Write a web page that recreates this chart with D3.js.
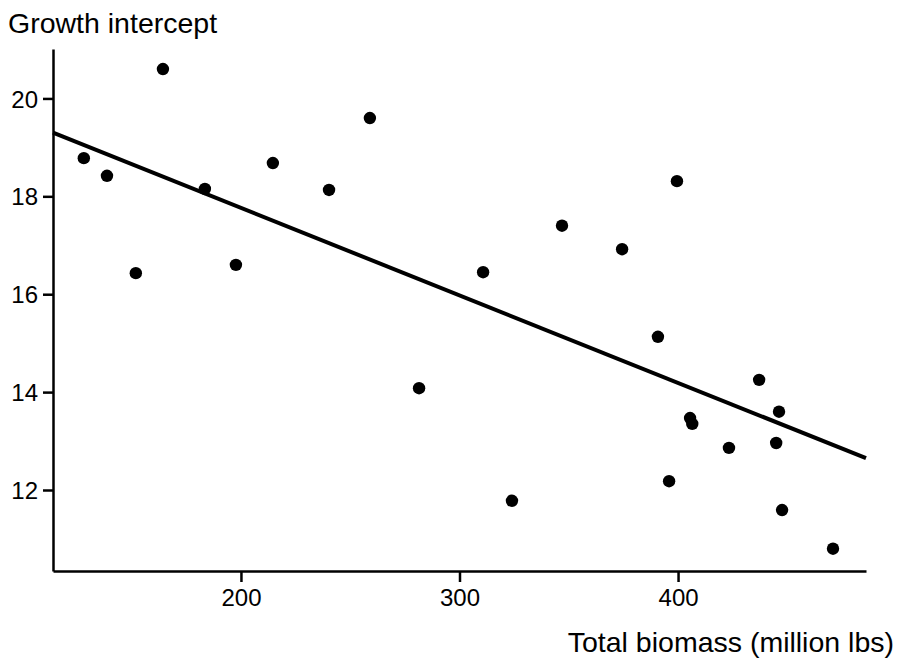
<!DOCTYPE html>
<html>
<head>
<meta charset="utf-8">
<script src="https://cdn.jsdelivr.net/npm/d3@7"></script>
<style>
  html, body { margin: 0; padding: 0; background: #fff; }
  svg { display: block; font-family: Arial, "Liberation Sans", Helvetica, sans-serif; }
  .axis path, .axis line { stroke: #000; stroke-width: 2.5; }
  .axis text { font-size: 24px; fill: #000; }
</style>
</head>
<body>
<svg id="chart" width="899" height="658"></svg>
<script>
// total biomass (million lbs) and growth intercept
const biomass = [128.1, 138.7, 164.3, 151.9, 183.5, 197.7, 214.6, 240.3, 259.0, 281.5,
                 310.8, 324.0, 346.9, 374.4, 399.5, 390.8, 395.9, 405.5, 406.5, 423.3,
                 437.1, 446.2, 444.9, 447.6, 470.9];
const growth  = [18.78, 18.42, 20.60, 16.43, 18.15, 16.60, 18.68, 18.13, 19.60, 14.08,
                 16.45, 11.78, 17.40, 16.92, 18.31, 15.13, 12.18, 13.47, 13.35, 12.86,
                 14.25, 13.60, 12.96, 11.59, 10.80];
const xTicks = [200, 300, 400];
const yTicks = [12, 14, 16, 18, 20];
// fitted line: growth = fitIntercept + fitSlope * biomass
const fitIntercept = 21.34;
const fitSlope = -0.01788;

const svg = d3.select('#chart');
const x = d3.scaleLinear().domain([114, 486]).range([53, 866]);
const y = d3.scaleLinear().domain([10.345, 21.01]).range([571, 49]);

svg.append('g').attr('class', 'axis')
  .attr('transform', 'translate(0,571)')
  .call(d3.axisBottom(x).tickValues(xTicks).tickSize(11).tickSizeOuter(0).tickPadding(7))
  .call(g => g.selectAll('text').attr('font-family', null));

svg.append('g').attr('class', 'axis')
  .attr('transform', 'translate(53,0)')
  .call(d3.axisLeft(y).tickValues(yTicks).tickSize(10).tickSizeOuter(0).tickPadding(5))
  .call(g => g.selectAll('text').attr('font-family', null).attr('dy', '0.36em'));

// regression line across the whole x range
const xs = x.domain();
svg.append('line')
  .attr('x1', x(xs[0])).attr('y1', y(fitIntercept + fitSlope * xs[0]))
  .attr('x2', x(xs[1])).attr('y2', y(fitIntercept + fitSlope * xs[1]))
  .attr('stroke', '#000').attr('stroke-width', 4);

svg.selectAll('circle.pt').data(d3.range(biomass.length)).enter().append('circle')
  .attr('class', 'pt')
  .attr('cx', i => x(biomass[i]))
  .attr('cy', i => y(growth[i]))
  .attr('r', 6.2)
  .attr('fill', '#000');

svg.append('text').attr('x', 8).attr('y', 33)
  .attr('font-size', 28.5).text('Growth intercept');
svg.append('text').attr('x', 894).attr('y', 652)
  .attr('text-anchor', 'end').attr('font-size', 28.5).text('Total biomass (million lbs)');
</script>
</body>
</html>
